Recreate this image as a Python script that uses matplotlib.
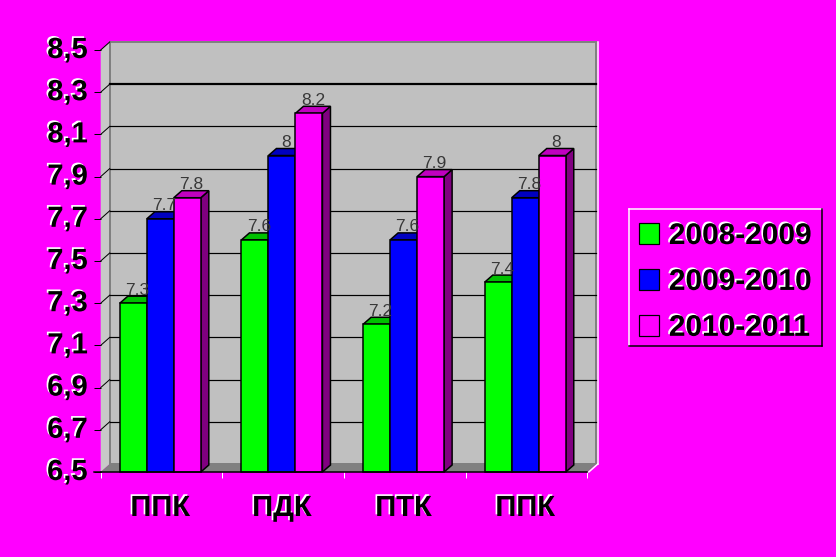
import matplotlib
matplotlib.use("Agg")
import matplotlib.pyplot as plt
from matplotlib.patches import Polygon, Patch
from matplotlib.lines import Line2D
import matplotlib.patheffects as pe
from matplotlib.font_manager import FontProperties

# ---- data ----
categories = ["ППК", "ПДК", "ПТК", "ППК"]
series_names = ["2008-2009", "2009-2010", "2010-2011"]
vals_2008 = [7.3, 7.6, 7.2, 7.4]
vals_2009 = [7.7, 8.0, 7.6, 7.8]
vals_2010 = [7.8, 8.2, 7.9, 8.0]
y_ticks = [6.5, 6.7, 6.9, 7.1, 7.3, 7.5, 7.7, 7.9, 8.1, 8.3, 8.5]
y_tick_labels = ["6,5", "6,7", "6,9", "7,1", "7,3", "7,5", "7,7", "7,9", "8,1", "8,3", "8,5"]

series = [vals_2008, vals_2009, vals_2010]
front_colors = ["#00FF00", "#0000FF", "#FF00FF"]
top_colors = ["#00C000", "#0000C0", "#C000C0"]
side_colors = ["#008000", "#000080", "#800080"]

W, H, DPI = 836, 557, 100
MAG = "#FF00FF"
fig = plt.figure(figsize=(W / DPI, H / DPI), dpi=DPI, facecolor=MAG)

ax_l, ax_r, ax_t, ax_b = 100.7, 587.3, 50.0, 472.0
ax = fig.add_axes([ax_l / W, (H - ax_b) / H, (ax_r - ax_l) / W, (ax_b - ax_t) / H])
ax.set_xlim(0, 4)
ax.set_ylim(6.5, 8.5)
ax.patch.set_visible(False)

pxx = (ax_r - ax_l) / 4.0
pxy = (ax_b - ax_t) / 2.0
# wall depth and bar depth in data units
dxw, dyw = 9 / pxx, 8 / pxy
dxb, dyb = 8 / pxx, 7 / pxy
px = 0.72  # points per pixel

Y0, Y1 = 6.5, 8.5
# side wall
ax.add_patch(Polygon([(0, Y0), (dxw, Y0 + dyw), (dxw, Y1 + dyw), (0, Y1)],
                     closed=True, facecolor="#C8C8C8", edgecolor="none", zorder=0.5, clip_on=False))
# back wall
ax.add_patch(Polygon([(dxw, Y0 + dyw), (4 + dxw, Y0 + dyw), (4 + dxw, Y1 + dyw), (dxw, Y1 + dyw)],
                     closed=True, facecolor="#C0C0C0", edgecolor="#808080", lw=2 * px, zorder=0.5, clip_on=False))
# floor
ax.add_patch(Polygon([(0, Y0), (4, Y0), (4 + dxw, Y0 + dyw), (dxw, Y0 + dyw)],
                     closed=True, facecolor="#808080", edgecolor="none", zorder=0.6, clip_on=False))
# white highlight on right edge
ax.plot([4 + dxw + 1.5 / pxx] * 2, [Y1 + dyw, Y0 + dyw], color="white", lw=1.5 * px, zorder=0.7, clip_on=False)
ax.plot([4 + dxw + 1.5 / pxx, 4 + 1.5 / pxx], [Y0 + dyw, Y0], color="white", lw=1.5 * px, zorder=0.7, clip_on=False)

# gridlines on back wall + diagonals on side wall
for v in y_ticks[1:]:
    lw = 2.2 * px if abs(v - 8.3) < 1e-6 else 1.2 * px
    if abs(v - 8.5) > 1e-6:
        ax.plot([dxw, 4 + dxw], [v + dyw, v + dyw], color="black", lw=lw, zorder=0.8, clip_on=False)
    ax.plot([0, dxw], [v, v + dyw], color="black", lw=1.0 * px, zorder=0.8, clip_on=False)

# bars
bar_w = 0.222
group_c = [i + 0.49 for i in range(len(categories))]
for s, vals in enumerate(series):
    xs = [c + (s - 1) * bar_w for c in group_c]
    for x, v in zip(xs, vals):
        xl, xr = x - bar_w / 2, x + bar_w / 2
        z = 2 + s
        ax.add_patch(Polygon([(xr, Y0), (xr + dxb, Y0 + dyb), (xr + dxb, v + dyb), (xr, v)],
                             closed=True, facecolor=side_colors[s], edgecolor="black", lw=1.5 * px,
                             zorder=z, clip_on=False))
        ax.add_patch(Polygon([(xl, v), (xr, v), (xr + dxb, v + dyb), (xl + dxb, v + dyb)],
                             closed=True, facecolor=top_colors[s], edgecolor="black", lw=1.5 * px,
                             zorder=z, clip_on=False))
    ax.bar(xs, [v - Y0 for v in vals], bottom=Y0, width=bar_w, color=front_colors[s],
           edgecolor="black", lw=1.5 * px, zorder=2 + s + 0.1, clip_on=False, label=series_names[s])
    for x, v in zip(xs, vals):
        ax.text(x + dxb / 2, v + dyb - 1.5 / pxy, "{:g}".format(v), ha="center", va="bottom",
                fontsize=12.5, color="#383838", family="Liberation Sans", zorder=10)

shadow = [pe.withSimplePatchShadow(offset=(-1.2, 1.2), shadow_rgbFace="white", alpha=1.0)]
bold = FontProperties(family="Liberation Sans", weight="bold", size=21)
bold_leg = FontProperties(family="Liberation Sans", weight="bold", size=21.5)

# axes / ticks
for sp in ["left", "right", "top"]:
    ax.spines[sp].set_visible(False)
ax.spines["bottom"].set_color("black")
ax.spines["bottom"].set_linewidth(1.5 * px)
ax.spines["bottom"].set_zorder(20)
ax.plot([-7 / pxx, 0], [Y0, Y0], color="black", lw=1.5 * px, clip_on=False, zorder=20)

ax.set_yticks(y_ticks)
ax.set_yticklabels(y_tick_labels)
ax.tick_params(axis="y", length=7 * px, width=1.0 * px, color="black", pad=6 * px)
for lab in ax.get_yticklabels():
    lab.set_fontproperties(bold)
    lab.set_path_effects(shadow)
    lab.set_va("center")
ax.yaxis.get_major_ticks()[-1].tick1line.set_color("white")

ax.set_xticks([0, 1, 2, 3, 4])
ax.set_xticklabels([])
ax.tick_params(axis="x", which="major", length=6 * px, width=1.0 * px, color="white")
ax.set_xticks(group_c, minor=True)
ax.set_xticklabels(categories, minor=True)
ax.tick_params(axis="x", which="minor", length=0, pad=22 * px)
for lab in ax.get_xticklabels(minor=True):
    lab.set_fontproperties(bold)
    lab.set_path_effects(shadow)

# legend
handles = [Patch(facecolor=c, edgecolor="black", lw=1.2 * px) for c in front_colors]
leg = fig.legend(handles, series_names, loc="upper left",
                 bbox_to_anchor=(639 / W, 1 - 222 / H), frameon=False, prop=bold_leg,
                 handlelength=0.67, handleheight=0.67, handletextpad=0.33, labelspacing=0.6,
                 borderpad=0.0, borderaxespad=0.0)
for t in leg.get_texts():
    t.set_path_effects(shadow)

lx0, lx1, ly0, ly1 = 629, 822, 209, 346
def fx(x): return x / W
def fy(y): return 1 - y / H
fig.add_artist(Line2D([fx(lx0), fx(lx1)], [fy(ly0), fy(ly0)], color="white", lw=1.5 * px))
fig.add_artist(Line2D([fx(lx0), fx(lx0)], [fy(ly0), fy(ly1)], color="white", lw=1.5 * px))
fig.add_artist(Line2D([fx(lx0), fx(lx1)], [fy(ly1), fy(ly1)], color="black", lw=1.5 * px))
fig.add_artist(Line2D([fx(lx1), fx(lx1)], [fy(ly0), fy(ly1)], color="black", lw=1.5 * px))

fig.savefig("out.png", dpi=DPI, facecolor=MAG)
